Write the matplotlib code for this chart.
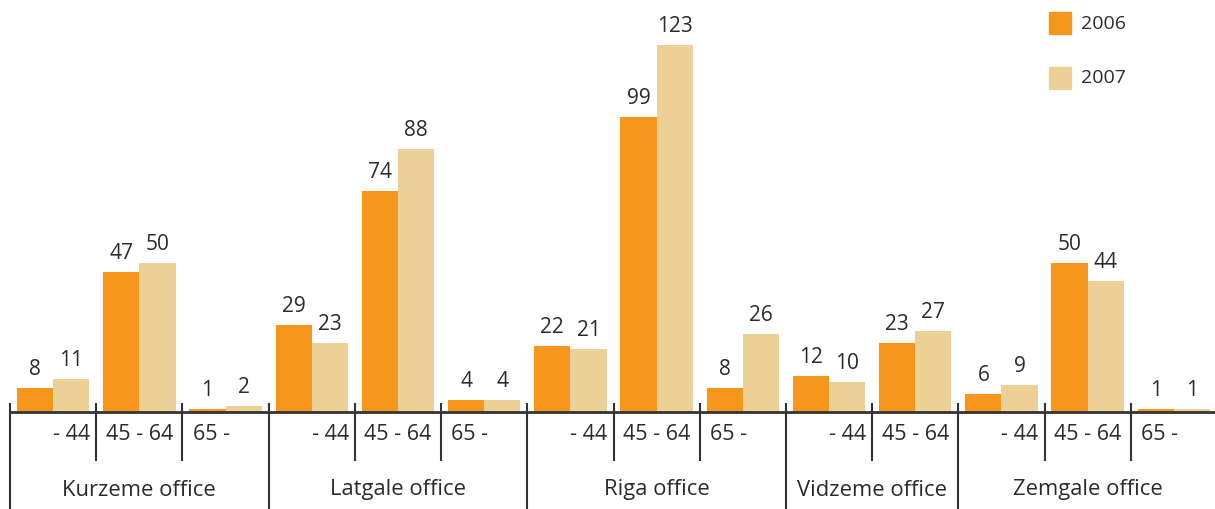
import matplotlib.pyplot as plt
import numpy as np

plt.rcParams['font.family'] = ['Open Sans', 'DejaVu Sans']

offices = ["Kurzeme office", "Latgale office", "Riga office", "Vidzeme office", "Zemgale office"]
age_groups = [
    ["- 44", "45 - 64", "65 -"],
    ["- 44", "45 - 64", "65 -"],
    ["- 44", "45 - 64", "65 -"],
    ["- 44", "45 - 64"],
    ["- 44", "45 - 64", "65 -"],
]
values_2006 = [8, 47, 1, 29, 74, 4, 22, 99, 8, 12, 23, 6, 50, 1]
values_2007 = [11, 50, 2, 23, 88, 4, 21, 123, 26, 10, 27, 9, 44, 1]

c06 = "#F7961D"
c07 = "#EDD095"
txt = "#2b2b2b"

fig = plt.figure(figsize=(12.15, 5.09), dpi=100)
ax = fig.add_axes([10 / 1215, 97 / 509, 1207 / 1215, 412 / 509])
px = 1 / 2.984  # data units per pixel in y

n = len(values_2006)
x = np.arange(n)
ax.bar(x + 0.29, values_2006, width=0.42, color=c06, label="2006")
ax.bar(x + 0.71, values_2007, width=0.42, color=c07, label="2007")

for xi, v in zip(x + 0.29, values_2006):
    ax.text(xi, v + 8 * px, str(v), ha="center", va="bottom", fontsize=15, color=txt)
for xi, v in zip(x + 0.71, values_2007):
    ax.text(xi, v + 8 * px, str(v), ha="center", va="bottom", fontsize=15, color=txt)

ax.set_xlim(0, n)
ax.set_ylim(0, 412 * px)

# baseline and the lines under the axis
ax.plot([0, n], [0, 0], color="#333333", lw=2, clip_on=False)
pos = 0
for grp, labels in zip(offices, age_groups):
    start = pos
    for j, lab in enumerate(labels):
        if j == 0:
            ax.text(pos + 0.93, -23 * px, lab, ha="right", va="center", fontsize=15.5, color=txt)
        elif lab == "65 -":
            ax.text(pos + 0.12, -23 * px, lab, ha="left", va="center", fontsize=15.5, color=txt)
        else:
            ax.text(pos + 0.5, -23 * px, lab, ha="center", va="center", fontsize=15.5, color=txt)
        if j > 0:
            ax.plot([pos, pos], [8 * px, -48 * px], color="#333333", lw=1.5, clip_on=False)
        pos += 1
    ax.plot([start, start], [8 * px, -100 * px], color="#333333", lw=1.5, clip_on=False)
    ax.text((start + pos) / 2, -78 * px, grp, ha="center", va="center", fontsize=15.8, color=txt)

for s in ax.spines.values():
    s.set_visible(False)
ax.set_xticks([])
ax.set_yticks([])

# legend
fig.patches.append(plt.Rectangle((1049 / 1215, 1 - 34 / 509), 22 / 1215, 22 / 509,
                                 transform=fig.transFigure, color=c06))
fig.patches.append(plt.Rectangle((1049 / 1215, 1 - 89 / 509), 22 / 1215, 22 / 509,
                                 transform=fig.transFigure, color=c07))
fig.text(1081 / 1215, 1 - 24 / 509, "2006", fontsize=14, color=txt, va="center")
fig.text(1081 / 1215, 1 - 78 / 509, "2007", fontsize=14, color=txt, va="center")

fig.savefig("out.png", dpi=100)
